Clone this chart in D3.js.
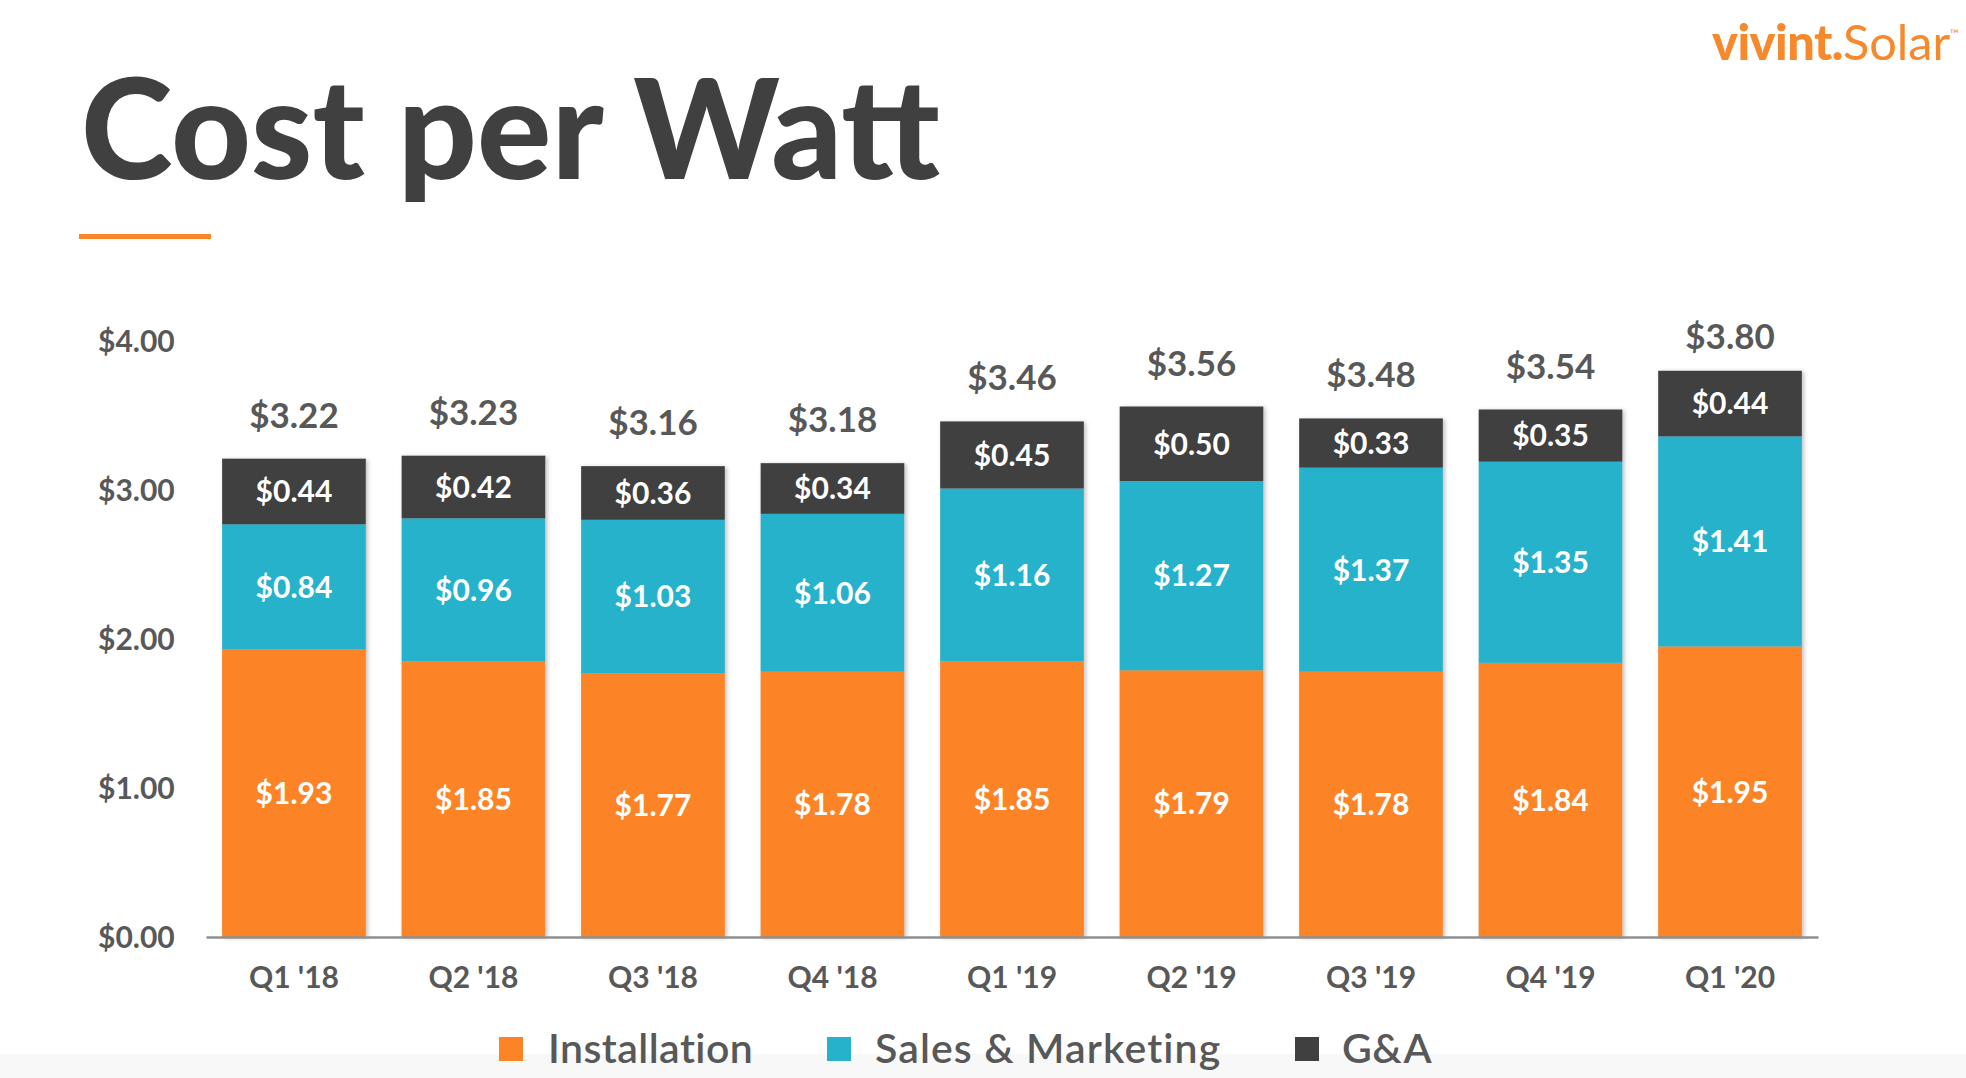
<!DOCTYPE html>
<html>
<head>
<meta charset="utf-8">
<script src="https://cdn.jsdelivr.net/npm/d3@7"></script>
<style>
  html, body { margin: 0; padding: 0; background: #ffffff; }
  svg { display: block; font-family: Lato, "Open Sans", sans-serif; }
</style>
</head>
<body>
<svg id="chart" width="1966" height="1078"></svg>
<script>
// ---- data ----
const categories = ["Q1 '18", "Q2 '18", "Q3 '18", "Q4 '18", "Q1 '19", "Q2 '19", "Q3 '19", "Q4 '19", "Q1 '20"];
const installation = [1.93, 1.85, 1.77, 1.78, 1.85, 1.79, 1.78, 1.84, 1.95];
const salesMarketing = [0.84, 0.96, 1.03, 1.06, 1.16, 1.27, 1.37, 1.35, 1.41];
const gAndA = [0.44, 0.42, 0.36, 0.34, 0.45, 0.50, 0.33, 0.35, 0.44];
const totals = [3.22, 3.23, 3.16, 3.18, 3.46, 3.56, 3.48, 3.54, 3.80];
const seriesNames = ["Installation", "Sales & Marketing", "G&A"];
const yTicks = [0, 1, 2, 3, 4];

const colors = { "Installation": "#FC8426", "Sales & Marketing": "#27B2CC", "G&A": "#404040" };
const textGray = "#585858";

const svg = d3.select("#chart");

// subtle bottom band
svg.append("rect").attr("x", 0).attr("y", 1054).attr("width", 1966).attr("height", 24).attr("fill", "#f8f8f8");

// defs: drop shadow
const defs = svg.append("defs");
const f = defs.append("filter").attr("id", "shadow").attr("x", "-10%").attr("y", "-10%").attr("width", "130%").attr("height", "130%");
f.append("feDropShadow").attr("dx", 2).attr("dy", 1).attr("stdDeviation", 2).attr("flood-color", "#000").attr("flood-opacity", 0.25);

// ---- logo ----
const logo = svg.append("text").attr("y", 60).attr("fill", "#F7892D").style("font-size", "42px");
logo.append("tspan").text("vivint.").style("font-weight", 900).style("letter-spacing", "-0.5px");
logo.append("tspan").text("Solar").style("font-weight", 400);
logo.append("tspan").text("™").style("font-size", "12px").attr("dy", -22);
{
  const w = logo.node().getComputedTextLength();
  const target = 1960 - 1712;
  const fs = 42 * target / w;
  logo.style("font-size", fs + "px");
  logo.attr("x", 1712);
}

// ---- title ----
const title = svg.append("text").attr("x", 81).attr("y", 179).attr("fill", "#404040")
  .style("font-weight", 900).style("font-size", "128px").text("Cost per Watt");
{
  const w = title.node().getComputedTextLength();
  title.style("font-size", (128 * 859 / w) + "px");
}
svg.append("rect").attr("x", 79).attr("y", 234).attr("width", 132).attr("height", 5).attr("fill", "#FC8426");

// ---- scales ----
const x = d3.scaleBand().domain(categories).range([206, 1818]).paddingInner(0.2).paddingOuter(0.09);
const y = d3.scaleLinear().domain([0, 4]).range([937, 341]);

// y axis labels
const yAxis = svg.append("g").attr("transform", "translate(98,0)")
  .call(d3.axisLeft(y).tickValues(yTicks).tickSize(0).tickFormat(d => "$" + d3.format(".2f")(d)));
yAxis.select(".domain").remove();
yAxis.selectAll("text").attr("x", 0).attr("text-anchor", "start").attr("dy", "0.36em")
  .attr("fill", textGray).style("font-size", "30px").style("font-weight", 700).style("font-family", "Lato, sans-serif");

// stacked data
const rows = categories.map((c, i) => ({ cat: c, "Installation": installation[i], "Sales & Marketing": salesMarketing[i], "G&A": gAndA[i] }));
const stack = d3.stack().keys(seriesNames)(rows);
const topOf = d => d["Installation"] + d["Sales & Marketing"] + d["G&A"];

// shadow under full bars
const shadowG = svg.append("g").attr("filter", "url(#shadow)");
shadowG.selectAll("rect").data(rows).join("rect")
  .attr("x", d => x(d.cat)).attr("width", x.bandwidth())
  .attr("y", d => y(topOf(d)))
  .attr("height", d => y(0) - y(topOf(d)))
  .attr("fill", "#ccc");

const layers = svg.append("g").selectAll("g").data(stack).join("g").attr("fill", d => colors[d.key]);
layers.selectAll("rect").data(d => d).join("rect")
  .attr("x", d => x(d.data.cat))
  .attr("width", x.bandwidth())
  .attr("y", d => y(d[1]))
  .attr("height", d => y(d[0]) - y(d[1]));

// segment labels
const segLabels = svg.append("g");
stack.forEach(layer => {
  segLabels.append("g").selectAll("text").data(layer).join("text")
    .attr("x", d => x(d.data.cat) + x.bandwidth() / 2)
    .attr("y", d => (y(d[0]) + y(d[1])) / 2)
    .attr("dy", "0.36em")
    .attr("text-anchor", "middle")
    .attr("fill", "#ffffff")
    .style("font-size", "30px").style("font-weight", 700)
    .text(d => "$" + d3.format(".2f")(d.data[layer.key]));
});

// totals
svg.append("g").selectAll("text").data(rows).join("text")
  .attr("x", d => x(d.cat) + x.bandwidth() / 2)
  .attr("y", d => Math.max(y(topOf(d)) - 31, 349))
  .attr("text-anchor", "middle")
  .attr("fill", textGray)
  .style("font-size", "35px").style("font-weight", 700)
  .text((d, i) => "$" + d3.format(".2f")(totals[i]));

// x axis
const xAxis = svg.append("g").attr("transform", `translate(0,${y(0)})`)
  .call(d3.axisBottom(x).tickSize(0).tickSizeOuter(0));
xAxis.select(".domain").attr("stroke", "#8f8f8f").attr("stroke-width", 2.5);
xAxis.selectAll("text").attr("y", 51).attr("dy", 0)
  .attr("fill", textGray).style("font-size", "30px").style("font-weight", 700).style("font-family", "Lato, sans-serif");

// legend
const legendPos = [{ sq: 499, tx: 548, w: 206 }, { sq: 827, tx: 875, w: 347 }, { sq: 1295, tx: 1342, w: 90 }];
const legend = svg.append("g");
seriesNames.forEach((name, i) => {
  legend.append("rect").attr("x", legendPos[i].sq).attr("y", 1037).attr("width", 24).attr("height", 24).attr("fill", colors[name]);
  const t = legend.append("text").attr("x", legendPos[i].tx).attr("y", 1063).attr("fill", textGray)
    .style("font-size", "41px").style("font-weight", 600).text(name);
  const w = t.node().getComputedTextLength();
  const ls = (legendPos[i].w - w) / name.length;
  t.style("letter-spacing", Math.max(-1, Math.min(3, ls)) + "px");
});
</script>
</body>
</html>
